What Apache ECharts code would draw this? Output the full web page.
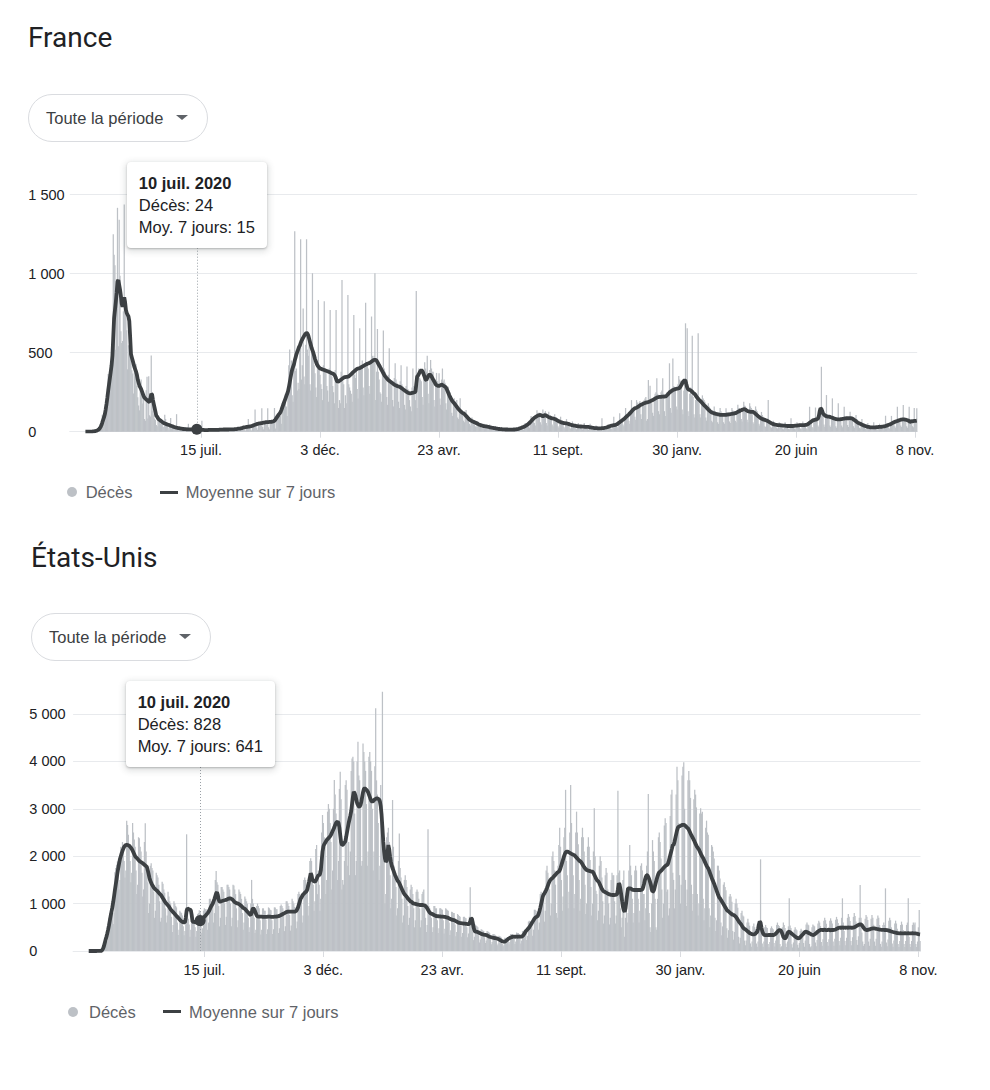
<!DOCTYPE html>
<html lang="fr">
<head>
<meta charset="utf-8">
<script src="https://cdn.jsdelivr.net/npm/echarts@6/dist/echarts.min.js"></script>
<style>
html,body{margin:0;padding:0;background:#fff;}
body{width:990px;height:1090px;position:relative;overflow:hidden;font-family:"Liberation Sans",Arial,sans-serif;}
.title{position:absolute;font-family:Roboto,"Liberation Sans",sans-serif;font-size:28px;line-height:32px;color:#202124;white-space:nowrap;}
.btn{position:absolute;box-sizing:border-box;width:180px;height:48px;border:1px solid #dadce0;border-radius:24px;background:#fff;font-size:16.5px;line-height:46px;color:#3c4043;padding-left:17px;white-space:nowrap;}
.btn .arr{position:absolute;left:147px;top:20px;width:0;height:0;border-left:6px solid transparent;border-right:6px solid transparent;border-top:5px solid #5f6368;}
.chart{position:absolute;left:0;width:990px;height:320px;}
.tip{position:absolute;z-index:5;background:#fff;border-radius:4px;padding:10px 12px;font-size:16.5px;line-height:22px;color:#202124;white-space:nowrap;box-shadow:0 1px 2px rgba(60,64,67,.3),0 2px 6px 2px rgba(60,64,67,.15);}
.tip b{display:block;font-weight:bold;}
.ldot{position:absolute;width:10px;height:10px;border-radius:50%;background:#bdc1c6;}
.lline{position:absolute;width:18px;height:3px;background:#3c4043;}
.ltxt{position:absolute;font-size:16.5px;line-height:20px;color:#5f6368;white-space:nowrap;}
</style>
</head>
<body>
<div class="title" style="left:28px;top:22px;">France</div>
<div class="btn" style="left:28px;top:94px;">Toute la période<span class="arr"></span></div>
<div id="frChart" class="chart" style="top:150px;"></div>
<div id="frTip" class="tip" style="top:161.7px;left:127px;"></div>
<div class="ldot" style="left:66.7px;top:487px;"></div>
<div class="ltxt" style="left:85.7px;top:482.3px;">Décès</div>
<div class="lline" style="left:160px;top:490.5px;"></div>
<div class="ltxt" style="left:185.7px;top:482.3px;">Moyenne sur 7 jours</div>

<div class="title" style="left:31px;top:541.5px;">États-Unis</div>
<div class="btn" style="left:31px;top:613px;">Toute la période<span class="arr"></span></div>
<div id="usChart" class="chart" style="top:669px;"></div>
<div id="usTip" class="tip" style="top:681px;left:123px;"></div>
<div class="ldot" style="left:67.7px;top:1006.7px;"></div>
<div class="ltxt" style="left:89px;top:1002px;">Décès</div>
<div class="lline" style="left:163.3px;top:1010.2px;"></div>
<div class="ltxt" style="left:189px;top:1002px;">Moyenne sur 7 jours</div>

<script>
// ---------- data (daily, starting 2020-02-29) ----------
const START = '2020-02-29';
const PAD_DAYS = 18;
const TICK_DATES = ['2020-07-15','2020-12-03','2021-04-23','2021-09-11','2022-01-30','2022-06-20','2022-11-08'];
const TICK_LABELS = ['15 juil.','3 déc.','23 avr.','11 sept.','30 janv.','20 juin','8 nov.'];
const FR_Y_TICKS = [0,500,1000,1500];
const US_Y_TICKS = [0,1000,2000,3000,4000,5000];
const TIP_DATE = '2020-07-10';
const TIP_TITLE = '10 juil. 2020';

const FR_DEATHS = [
0,1,0,0,1,1,2, 1,2,2,3,4,6,9, 12,14,21,27,40,69,108, 90,112,120,186,240,230,365,
319,292,418,499,509,1250,1120, 1053,518,833,1417,541,1341,987, 635,561,574,762,1438,753,761, 642,395,547,531,544,516,389,
369,242,437,367,427,289,218, 166,135,306,330,278,178,243, 80,70,263,348,83,351,104, 96,483,131,186,110,83,74,
43,35,98,65,66,52,52, 57,31,31,107,81,44,46, 27,13,54,87,23,28,24, 26,10,29,111,28,14,28,
14,9,24,30,21,13,28, 10,8,30,50,11,18,14, 14,9,19,11,14,13,24, 8,6,14,10,12,70,8,
8,4,14,10,12,13,14, 6,5,12,14,11,14,15, 8,4,13,15,12,14,13, 10,5,15,16,13,15,16,
9,6,16,18,14,17,17, 10,6,19,20,17,22,25, 12,8,24,31,27,30,28, 10,6,28,30,80,35,30,
14,8,35,30,45,140,40, 25,12,60,55,58,62,148, 30,15,62,60,55,65,148, 28,15,60,65,62,70,72,
150,20,80,95,105,115,130, 100,50,180,190,200,210,240, 160,100,290,420,520,380,450, 231,190,418,1268,385,400,260,
310,270,550,1218,330,420,780, 350,300,550,1218,520,480,580, 300,260,520,1003,450,420,370, 280,220,450,834,420,360,300,
270,200,420,826,370,380,290, 260,190,400,770,360,350,290, 250,180,390,770,350,300,150, 200,180,380,960,320,300,150,
230,180,360,865,300,280,260, 240,190,380,738,360,340,400, 270,210,410,654,420,400,450, 280,230,430,816,440,420,400,
290,240,440,729,480,440,480, 1003,200,380,650,380,330,250, 240,190,400,640,400,380,340, 220,170,360,528,330,320,300,
200,160,340,433,330,310,280, 190,150,320,420,300,290,270, 170,140,290,412,270,260,200, 160,130,280,400,290,280,200,
890,150,300,400,340,330,320, 220,170,360,440,400,380,480, 240,180,390,454,400,380,380, 200,160,330,372,320,300,370,
210,170,330,400,320,330,310, 180,140,270,285,260,250,230, 120,100,200,211,190,180,200, 90,80,150,211,140,130,120,
70,60,110,137,110,90,90, 50,40,70,90,70,65,60, 35,30,50,65,55,45,40, 25,20,40,50,40,35,35,
20,15,30,45,30,30,25, 15,12,25,35,25,22,20, 10,8,18,30,18,16,14, 8,6,15,28,15,13,12,
8,6,14,25,14,14,13, 10,8,18,30,25,24,26, 18,12,30,55,40,42,45, 35,25,60,100,75,80,85,
55,40,100,135,115,120,120, 60,45,110,140,115,120,130, 55,40,100,126,100,105,100, 45,35,85,110,85,90,85,
35,25,70,95,65,60,55, 30,22,60,80,55,58,55, 25,18,45,65,45,42,40, 20,15,40,55,38,35,33,
20,14,35,55,35,32,31, 18,12,30,50,32,28,25, 14,10,25,40,25,22,20, 10,8,20,85,15,14,14,
14,10,28,45,32,36,38, 20,15,40,95,42,40,45, 30,22,55,116,60,62,68, 45,35,80,150,90,100,110,
70,50,120,200,140,150,160, 95,75,200,185,175,185,195, 110,80,170,190,200,210,220, 70,80,327,200,291,200,180,
120,100,220,240,250,338,240, 130,110,230,250,260,338,240, 130,100,230,250,250,260,433, 150,120,270,464,290,280,280,
160,140,300,352,330,320,323, 140,110,260,300,686,280,654, 130,100,240,280,230,608,220, 110,90,200,240,200,623,180,
110,90,200,230,210,200,190, 90,70,160,180,160,150,140, 70,60,130,160,130,125,120, 60,50,120,150,130,120,115,
60,50,120,148,125,120,120, 65,55,125,150,135,130,130, 70,60,135,170,150,150,140, 80,65,150,190,165,160,150,
75,60,140,180,160,150,140, 60,50,125,160,140,130,110, 50,40,100,125,105,95,90, 35,30,65,80,200,55,50,
30,25,55,70,60,55,50, 25,20,45,60,45,45,40, 20,15,40,60,45,40,38, 18,15,40,85,40,35,30,
20,15,42,60,45,42,40, 20,16,45,65,48,45,44, 22,16,45,60,158,50,55, 30,22,65,80,153,80,85,
40,30,90,100,411,100,105, 45,32,100,232,110,105,100, 40,30,90,211,95,90,85, 35,25,80,180,85,80,75,
40,28,85,158,95,90,85, 42,30,90,126,100,98,95, 35,25,75,105,80,70,60, 25,20,55,80,50,45,40,
18,14,35,55,35,30,28, 16,12,32,60,32,28,26, 16,12,32,50,34,30,30, 18,14,38,101,40,38,40,
25,18,50,100,58,60,62, 35,25,70,158,80,78,80, 40,30,80,169,85,80,75, 35,25,75,158,80,75,70,
35,28,150,75,70,148
];

const FR_AVG = [
0,0,0,0,0,1,1, 1,1,2,2,3,4,6, 8,11,15,22,30,42,58, 75,90,110,140,175,215,260,
300,340,380,420,480,600,720, 770,820,880,950,960,930,900, 860,810,790,830,850,820,770, 750,740,730,700,600,490,470,
450,430,410,395,380,360,330, 310,290,280,270,255,240,225, 215,210,205,200,195,190,188, 210,240,235,200,175,150,125,
100,95,85,78,74,70,66, 62,58,55,52,50,48,46, 44,42,40,38,36,34,32, 30,28,27,25,24,23,22,
21,20,19,18,17,17,16, 16,15,15,15,15,15,15, 15,15,15,14,14,15,15, 14,13,12,12,11,11,11,
11,10,10,10,10,10,11, 11,11,11,12,12,12,12, 12,12,12,12,12,13,13, 13,13,13,14,14,14,14,
14,14,14,15,15,15,15, 15,15,16,16,17,18,19, 19,20,21,22,24,26,28, 28,29,30,31,32,32,33,
34,36,38,40,42,44,46, 48,50,51,52,53,54,55, 56,57,58,59,60,60,61, 61,62,62,63,63,64,66,
70,76,84,92,100,108,115, 122,135,150,165,180,195,210, 225,240,255,280,310,340,370, 395,410,425,450,470,490,505,
520,535,545,560,575,585,595, 605,615,620,625,622,610,590, 570,550,530,515,500,480,460, 445,430,420,412,405,400,398,
396,394,392,390,388,386,384, 382,380,378,375,372,370,368, 365,360,350,335,320,316,318, 322,326,330,334,338,342,345,
346,347,347,348,350,355,360, 365,370,375,380,385,390,395, 398,400,401,402,405,408,412, 415,418,421,424,427,430,432,
434,436,440,444,448,452,454, 455,454,450,440,430,420,411, 400,390,380,370,360,352,345, 338,332,327,322,318,314,310,
306,302,298,295,292,290,288, 286,284,282,278,274,270,266, 262,258,254,250,247,245,243, 243,244,245,246,248,250,252,
300,348,355,365,375,385,390, 385,375,360,345,330,327,340, 350,358,362,358,350,340,330, 320,310,300,295,292,290,290,
292,295,298,296,292,288,285, 280,270,258,245,232,220,210, 200,192,185,180,172,165,158, 150,144,138,132,127,122,118,
116,112,106,100,94,88,82, 77,73,70,67,64,62,60, 58,55,52,49,46,44,42, 40,38,37,36,35,34,33,
32,31,30,28,27,26,25, 24,23,22,21,20,19,18, 17,17,16,16,15,15,15, 14,14,14,13,13,13,13,
13,13,13,13,14,14,15, 16,17,18,20,22,24,26, 28,30,32,35,38,42,46, 50,55,60,66,72,78,84,
88,92,96,99,102,104,105, 106,104,100,98,100,104,106, 102,98,95,92,90,88,86, 85,84,82,80,78,75,72,
69,66,63,61,59,57,56, 55,54,53,52,51,50,48, 46,44,42,41,40,39,38, 37,36,35,34,34,33,33,
32,32,32,32,31,31,31, 30,30,29,28,27,26,25, 24,23,23,22,22,21,21, 21,21,21,22,22,23,24,
25,26,28,30,32,34,36, 38,39,40,41,42,43,45, 48,52,56,60,64,68,72, 76,80,85,90,95,100,105,
110,116,122,128,134,140,145, 148,150,152,155,158,162,166, 170,172,175,178,180,182,184, 185,186,188,190,192,195,198,
200,203,206,210,213,216,218, 219,220,220,221,222,222,222, 222,223,225,230,236,242,248, 252,256,260,264,266,268,270,
271,272,273,275,278,285,295, 305,315,322,327,322,300,280, 270,266,264,262,258,252,246, 243,238,230,222,215,208,202,
198,192,186,180,174,168,162, 158,152,146,140,135,130,126, 123,120,118,116,114,113,112, 110,109,108,107,106,106,106,
106,106,106,107,108,108,109, 110,111,112,113,114,115,116, 117,119,122,125,128,131,134, 136,138,140,142,142,140,136,
132,130,128,127,126,126,126, 125,122,118,113,108,103,98, 94,90,86,83,80,78,76, 75,73,71,68,65,62,59,
56,53,50,48,46,45,44, 43,42,42,41,41,40,40, 39,39,38,38,37,37,36, 36,36,36,36,36,36,37,
37,38,38,39,40,40,41, 41,42,42,42,42,42,43, 43,45,48,52,56,60,64, 68,72,74,75,76,78,80,
85,100,130,148,145,130,115, 108,104,100,98,96,95,95, 94,92,90,88,86,84,82, 80,79,78,78,78,78,79,
80,81,82,83,84,85,85, 85,85,86,86,85,84,82, 78,74,70,66,62,58,55, 53,50,48,45,42,40,38,
36,34,32,31,30,29,28, 28,28,28,28,28,28,29, 29,29,30,30,31,31,32, 32,33,34,36,38,40,42,
44,46,48,51,54,57,60, 62,64,66,68,70,72,74, 76,77,78,78,78,77,76, 74,72,70,68,62,64,66,
66,67,68,68,69,70
];

const US_DEATHS = [
1,0,1,0,2,1,2, 2,3,4,3,5,8,10, 10,5,15,65,125,205,275, 255,205,315,700,800,890,955,
780,570,805,1660,1750,1820,1890, 1600,1300,1500,2200,2000,2300,2200, 1900,1550,1700,2749,2658,2450,2200, 1900,1450,1650,2700,2500,2350,2200,
1700,1200,1400,2400,2380,2200,2100, 1650,1150,1300,2300,2693,2100,1800, 1450,800,1000,1800,1850,1750,1700, 1250,700,850,1650,1600,1550,1400,
1050,620,700,1463,1420,1300,1230, 900,600,750,1250,1150,1050,1000, 720,400,550,1050,1000,950,920, 600,340,450,850,820,800,750,
520,330,420,820,2462,750,680, 560,300,450,800,750,680,600, 500,300,420,780,800,860,828, 580,380,480,850,900,880,880,
750,450,600,1100,1100,1050,1000, 1000,600,800,1500,1688,1450,1400, 950,520,700,1350,1350,1300,1250, 1000,550,720,1400,1400,1350,1300,
1000,520,700,1400,1380,1300,1200, 900,500,650,1300,1250,1200,1100, 800,450,600,1150,1100,1050,1000, 700,400,500,1000,1500,1100,1000,
700,380,450,950,1000,950,900, 650,350,450,900,900,850,850, 660,360,460,920,900,870,860, 650,360,460,920,920,880,880,
680,380,480,950,980,950,900, 740,420,520,1050,1050,1000,950, 760,430,540,1100,1050,1000,930, 850,480,620,1200,1250,1200,1100,
1100,600,750,1500,1550,1500,1400, 1300,750,950,1900,1955,1900,1650, 1400,850,1050,2150,2236,1200,1700, 1400,850,1100,2500,2869,2700,2400,
2200,1200,1500,2940,3100,3000,2700, 2300,1300,1700,3000,3608,3300,2900, 2600,1500,1900,3420,3783,3200,1300, 1500,1400,1900,3500,3600,3400,1800,
2300,1600,2100,3800,4060,4100,4000, 2900,1600,1900,4000,4416,3700,3600, 3200,1800,1900,4380,4200,4000,3800, 3100,1800,2100,4098,4200,4000,3800,
3000,1700,2100,3900,5120,3600,3300, 2700,1500,1800,3500,3200,5470,2500, 1900,1000,1200,2400,2500,2600,2300, 1600,900,1100,3185,2200,1800,1600,
1350,750,900,1900,2480,1750,1550, 1100,600,750,1500,1600,1500,1350, 950,550,700,1300,1400,1350,1200, 900,500,650,1250,1300,1250,1100,
900,500,650,1200,1250,1300,1000, 700,400,550,2567,950,900,850, 700,400,500,950,950,900,900, 650,380,480,900,900,880,870,
650,370,470,900,880,860,850, 600,340,440,830,820,800,800, 560,310,400,780,760,740,720, 530,300,380,720,720,700,690,
500,290,370,720,1343,700,600, 400,230,300,560,540,520,500, 330,180,240,460,450,430,420, 290,170,220,420,410,400,380,
250,140,190,360,360,350,330, 220,120,160,320,310,300,280, 150,100,130,280,270,260,290, 240,140,190,360,360,360,330,
260,150,200,390,380,380,360, 280,160,220,420,420,430,400, 400,230,320,620,640,630,560, 560,320,450,870,870,850,770,
780,450,600,1200,1250,1200,1000, 1100,620,850,1700,1800,1650,1400, 1300,750,1000,2000,2100,1900,1700, 1400,800,700,1800,2236,2600,2200,
1500,850,1150,2400,2600,3400,1900, 1600,900,1250,2500,3500,2700,2040, 1600,900,1200,2500,2940,2500,2250, 1500,850,1100,2400,2600,2400,2100,
1400,780,1000,2200,2400,2200,1920, 1350,750,1000,2100,3010,2000,1270, 1200,650,850,1800,2000,1900,1550, 1050,580,750,1600,1750,1650,1300,
1000,560,700,1500,1650,1600,1600, 1050,580,750,1600,3383,1650,1700, 900,500,700,1500,1700,300,700, 1100,600,800,1700,2236,1800,1600,
1100,600,800,1700,1800,1700,1300, 1100,600,850,1800,1850,1700,1200, 1200,650,900,1800,2100,3313,800, 500,400,1000,2340,2100,1900,1100,
500,450,1100,2400,2500,2300,1950, 1300,700,1000,2650,2800,2700,1250, 1300,750,900,2850,3300,3400,1650, 1500,900,1300,3300,3887,3600,2700,
1600,1000,1400,3700,3887,3980,3000, 1500,950,1300,3600,3800,3600,3230, 1400,850,1200,3200,3400,3300,3030, 1200,750,1000,2900,3010,2900,2940,
1100,650,900,2600,2750,2500,2450, 900,500,750,2236,2200,2100,1954, 700,420,650,1800,1800,1700,1530, 600,330,520,1400,1450,1350,1280,
480,280,440,1150,1200,1150,1040, 420,240,400,1000,1100,1000,915, 300,160,280,800,850,750,730, 220,120,220,600,680,600,535,
160,90,200,520,580,500,463, 160,90,200,500,550,1934,500, 160,90,200,500,550,500,485, 150,80,190,480,520,480,460,
170,95,220,550,600,550,525, 150,80,100,500,600,550,484, 160,85,200,520,1111,540,485, 140,75,180,450,500,460,440,
130,70,170,420,470,430,400, 170,90,220,560,600,560,544, 150,80,100,500,560,540,520, 180,100,230,580,640,600,526,
190,110,250,640,700,650,575, 190,110,250,640,690,640,581, 200,110,260,660,720,670,593, 210,120,280,700,1111,600,423,
210,120,280,700,780,720,634, 210,120,290,720,800,740,620, 230,130,310,700,1392,700,388, 200,110,150,680,760,720,656,
200,110,260,680,760,700,552, 200,110,260,680,750,700,548, 150,90,200,550,600,550,1322, 180,100,240,640,700,650,500,
160,90,220,580,640,580,467, 150,85,210,550,620,560,443, 150,85,210,550,600,1111,300, 150,85,210,550,600,560,600,
150,85,200,500,865,211
];

const US_AVG = [
0,0,0,0,0,0,0, 0,0,0,1,1,1,1, 2,5,20,50,100,170,240, 300,370,450,540,640,740,830,
920,1030,1150,1280,1400,1520,1640, 1750,1850,1940,2000,2060,2110,2160, 2200,2220,2236,2240,2236,2230,2220, 2200,2180,2150,2120,2080,2040,2000,
1980,1960,1940,1920,1900,1885,1875, 1865,1850,1835,1820,1805,1790,1770, 1700,1620,1540,1480,1440,1400,1370, 1340,1320,1300,1285,1270,1250,1230,
1210,1190,1170,1140,1110,1080,1050, 1020,1000,980,960,940,910,880, 860,840,820,800,780,760,740, 720,700,680,660,640,625,615,
610,605,605,700,850,900,890, 880,870,860,760,620,615,615, 610,605,600,600,610,625,641, 660,680,690,700,720,740,760,
780,800,830,860,900,940,970, 1000,1050,1100,1160,1220,1240,1180, 1080,1040,1040,1050,1055,1060,1065, 1070,1075,1080,1090,1100,1105,1110,
1110,1100,1090,1070,1050,1030,1020, 1010,1005,1000,990,980,960,950, 930,910,900,890,870,850,830, 810,790,770,760,800,880,900,
880,840,790,750,730,725,725, 725,725,724,722,720,720,720, 720,722,725,725,725,724,722, 720,720,722,724,725,726,728,
730,735,740,750,760,770,780, 790,800,810,820,825,830,830, 830,830,830,830,830,830,830, 835,850,880,920,980,1040,1100,
1130,1160,1190,1210,1230,1245,1260, 1300,1380,1460,1550,1640,1600,1500, 1480,1470,1463,1480,1520,1560,1600, 1600,1620,1700,1900,2100,2200,2250,
2280,2310,2340,2360,2380,2400,2420, 2450,2490,2530,2570,2610,2660,2700, 2720,2730,2700,2600,2450,2300,2236, 2240,2260,2290,2310,2400,2500,2600,
2700,2780,2860,2950,3100,3250,3361, 3330,3280,3200,3120,3080,3050,3044, 3080,3150,3250,3350,3420,3432,3420, 3400,3380,3350,3300,3250,3200,3160,
3150,3160,3180,3200,3210,3220,3220, 3210,3200,3150,3050,2869,2600,2300, 2100,1950,1884,1900,2050,2236,2150, 2000,1880,1800,1745,1700,1650,1600,
1560,1520,1480,1463,1430,1390,1350, 1310,1270,1230,1200,1181,1160,1140, 1110,1090,1070,1050,1040,1030,1010, 1000,1000,995,990,985,980,975,
970,970,970,970,970,965,960, 950,930,900,870,840,810,795, 790,780,770,760,750,740,735, 735,733,731,730,728,727,726,
725,722,718,714,710,705,700, 690,680,670,662,656,654,650, 640,630,620,610,600,595,590, 588,585,583,580,578,575,572,
570,568,566,570,620,689,680, 600,500,430,410,408,405,400, 390,380,370,360,355,350,345, 342,340,337,330,320,310,300,
295,290,285,280,276,272,270, 267,262,255,245,235,225,215, 205,200,197,200,210,225,240, 255,265,275,285,292,298,302,
302,300,303,305,301,302,302, 302,302,305,315,335,360,390, 420,440,460,478,500,530,560, 590,620,650,680,700,715,725,
740,780,840,910,990,1070,1150, 1190,1220,1251,1290,1330,1380,1430, 1470,1500,1520,1533,1550,1570,1590, 1610,1630,1650,1665,1674,1700,1750,
1810,1870,1930,1990,2040,2080,2095, 2095,2090,2080,2070,2060,2050,2040, 2030,2025,2010,1990,1970,1950,1930, 1910,1895,1884,1860,1830,1800,1770,
1745,1725,1709,1700,1695,1690,1685, 1680,1676,1674,1650,1610,1570,1530, 1500,1480,1463,1430,1390,1350,1310, 1280,1260,1251,1240,1230,1220,1210,
1200,1195,1190,1185,1181,1181,1181, 1181,1185,1190,1200,1300,1427,1400, 1300,1181,1050,930,860,830,900, 1050,1200,1322,1322,1320,1315,1310,
1290,1288,1287,1287,1287,1287,1287, 1287,1287,1287,1287,1290,1300,1350, 1420,1500,1560,1600,1600,1560,1520, 1463,1400,1300,1251,1260,1300,1380,
1450,1520,1580,1630,1660,1674,1690, 1710,1730,1750,1770,1790,1805,1814, 1830,1880,1950,2020,2090,2160,2236, 2236,2300,2380,2460,2540,2600,2623,
2630,2640,2650,2658,2660,2660,2655, 2640,2620,2600,2588,2560,2520,2480, 2440,2410,2377,2340,2300,2260,2220, 2190,2166,2140,2100,2060,2020,1990,
1960,1920,1880,1840,1800,1770,1745, 1700,1650,1600,1550,1500,1463,1420, 1370,1320,1270,1220,1170,1130,1111, 1080,1050,1020,990,960,930,900,
865,850,835,820,805,790,775, 765,760,750,735,715,690,660, 630,605,583,560,530,500,480, 465,455,443,425,410,395,380,
370,362,356,352,352,356,365, 390,400,460,560,619,600,500, 420,370,345,337,337,337,337, 337,340,335,338,336,339,337,
340,350,365,385,405,425,440, 443,430,400,350,300,275,267, 280,320,380,408,405,395,380, 365,350,335,320,305,292,280,
270,267,275,290,310,330,350, 370,390,405,408,400,390,380, 370,360,350,342,337,340,350, 365,380,395,410,425,435,443,
445,448,440,446,450,438,443, 440,447,452,441,437,446,443, 443,444,448,455,465,475,485, 490,495,488,494,497,489,492,
494,490,496,488,493,497,491, 492,489,494,495,500,510,520, 530,540,550,558,563,560,545, 520,495,470,455,446,443,445,
450,455,462,468,474,478,478, 476,472,468,464,460,456,452, 450,448,446,445,444,443,443, 443,440,436,430,424,418,412,
406,400,395,390,386,382,378, 376,374,371,375,373,370,374, 373,376,371,374,372,375,373, 371,374,372,376,373,370,373,
370,365,360,355,352,350
];

// ---------- helpers ----------
function addDays(iso, n) {
  const d = new Date(iso + 'T00:00:00Z');
  d.setUTCDate(d.getUTCDate() + n);
  return d.toISOString().slice(0, 10);
}
function fmtNum(v) { return String(v).replace(/\B(?=(\d{3})+(?!\d))/g, '\u00a0'); }
const NDAYS = Math.max(FR_DEATHS.length, FR_AVG.length, US_DEATHS.length, US_AVG.length);
const CATS = [];
for (let i = -PAD_DAYS; i < NDAYS; i++) CATS.push(addDays(START, i));
function padded(a) { return new Array(PAD_DAYS).fill(null).concat(a); }
const isTick = (idx, val) => TICK_DATES.indexOf(val) >= 0;
const PLOT_W = 847.4;
const FONT = '"Liberation Sans", Arial, sans-serif';

function buildOption(cfg) {
  const yt = cfg.yTicks;
  return {
    animation: false,
    tooltip: { show: false },
    grid: { left: cfg.left, top: cfg.top, width: PLOT_W, height: 237, containLabel: false, outerBoundsMode: 'none' },
    xAxis: {
      type: 'category', data: CATS, boundaryGap: true,
      axisLine: { show: true, lineStyle: { color: '#e8eaed', width: 1 } },
      axisTick: { show: true, interval: isTick, alignWithLabel: true, length: 6, lineStyle: { color: '#dadce0' } },
      axisLabel: { interval: isTick, formatter: v => TICK_LABELS[TICK_DATES.indexOf(v)] || '', color: '#202124', fontSize: 14.5, fontFamily: FONT, margin: 11 },
      splitLine: { show: false }
    },
    yAxis: {
      type: 'value', min: yt[0], max: yt[yt.length - 1], interval: yt[1] - yt[0],
      axisLine: { show: false }, axisTick: { show: false },
      axisLabel: { align: 'left', margin: cfg.labelMargin, formatter: v => fmtNum(v), color: '#202124', fontSize: 14.5, fontFamily: FONT },
      splitLine: { show: true, lineStyle: { color: '#e8eaed', width: 1 } }
    },
    series: [
      {
        name: 'Décès', type: 'bar', data: padded(cfg.deaths), barWidth: 1.25, clip: false,
        itemStyle: { color: '#bdc1c6' }, emphasis: { disabled: true }, silent: true, large: false, progressive: 0,
        markLine: {
          silent: true, symbol: ['none', 'none'], label: { show: false },
          lineStyle: { type: [1, 2], color: '#9aa0a6', width: 1 },
          data: [{ xAxis: TIP_DATE }]
        }
      },
      {
        name: 'Moyenne sur 7 jours', type: 'line', data: padded(cfg.avg), showSymbol: false, symbol: 'none',
        lineStyle: { color: '#3c4043', width: 3.8 }, itemStyle: { color: '#3c4043' }, silent: true, z: 3,
        emphasis: { disabled: true }, connectNulls: false, progressive: 0,
        markPoint: {
          silent: true, symbol: 'circle', symbolSize: 11, label: { show: false },
          itemStyle: { color: '#3c4043' },
          data: [{ coord: [TIP_DATE, cfg.avg[CATS.indexOf(TIP_DATE) - PAD_DAYS]] }]
        }
      }
    ]
  };
}

function makeChart(elId, tipId, cfg) {
  const el = document.getElementById(elId);
  const chart = echarts.init(el, null, { renderer: 'svg', width: 990, height: 320 });
  chart.setOption(buildOption(cfg));
  const ci = CATS.indexOf(TIP_DATE);
  const di = ci - PAD_DAYS;
  const tip = document.getElementById(tipId);
  tip.innerHTML = '<b>' + TIP_TITLE + '</b><div>Décès: ' + fmtNum(cfg.deaths[di]) + '</div><div>Moy. 7 jours: ' + fmtNum(cfg.avg[di]) + '</div>';
  const px = chart.convertToPixel({ xAxisIndex: 0 }, ci);
  if (isFinite(px)) tip.style.left = (px - tip.offsetWidth / 2) + 'px';
  return chart;
}

makeChart('frChart', 'frTip', { left: 69.8, top: 44.7, labelMargin: 41.5, yTicks: FR_Y_TICKS, deaths: FR_DEATHS, avg: FR_AVG });
makeChart('usChart', 'usTip', { left: 73.1, top: 45, labelMargin: 43.8, yTicks: US_Y_TICKS, deaths: US_DEATHS, avg: US_AVG });
</script>
</body>
</html>
